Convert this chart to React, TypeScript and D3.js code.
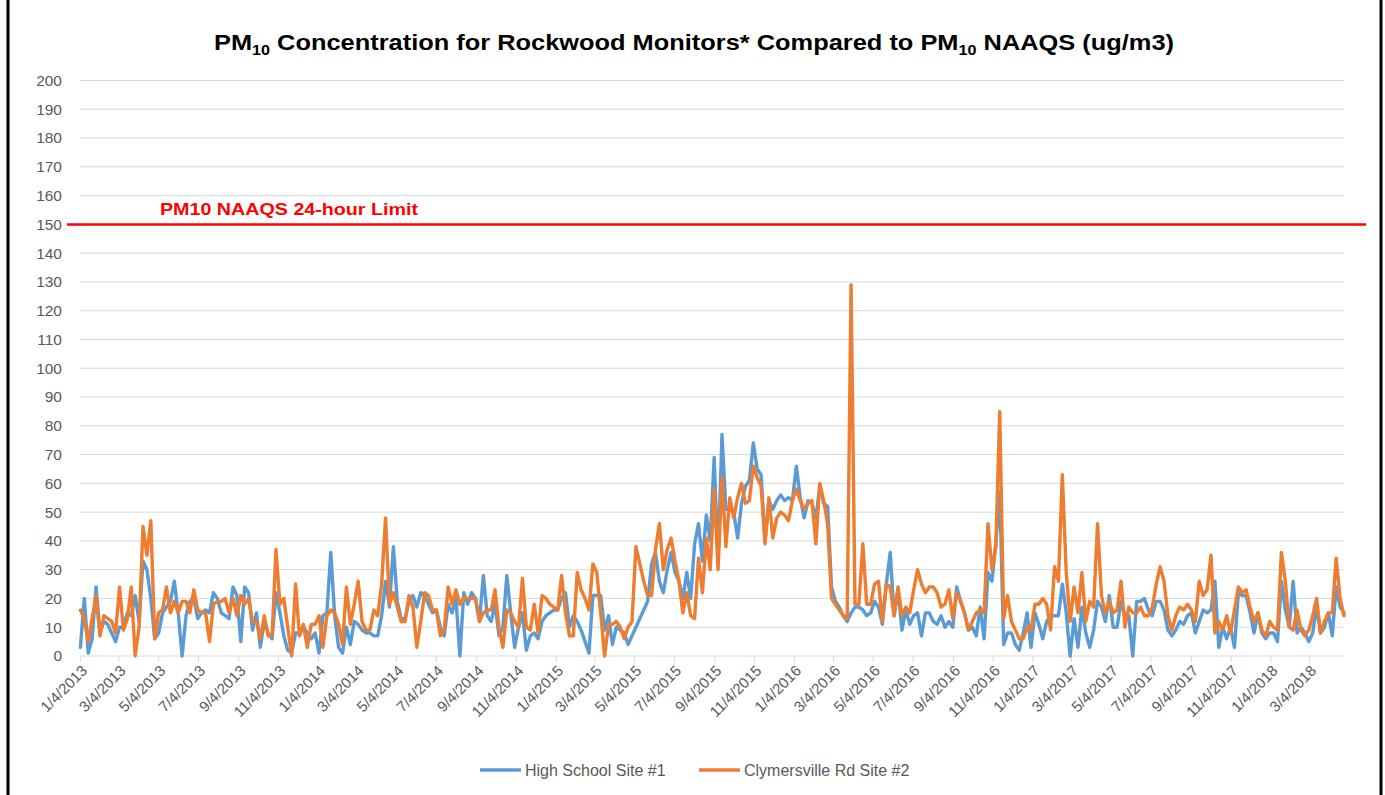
import React, { useEffect, useRef } from "react";
import * as d3 from "d3";

// samples every 6 days starting 1/4/2013
const startDate = new Date(2013, 0, 4);
const stepDays = 6;

const highSchool = [
  3, 20, 1, 6, 24, 8, 12, 11, 8, 5, 10, 10, 15, 14, 21, 12, 33, 30, 20, 6,
  8, 15, 17, 19, 26, 15, 0, 14, 19, 20, 13, 15, 16, 15, 22, 20, 15, 14, 13, 24,
  21, 5, 24, 22, 9, 15, 3, 12, 8, 6, 22, 15, 7, 2,
  1, 8, 8, 10, 8, 6, 8, 1, 14, 15, 36, 14, 3, 1, 10, 4, 12, 11, 9, 8,
  8, 7, 7, 14, 26, 17, 38, 19, 13, 13, 19, 21, 17, 22, 21, 18, 15, 16, 10, 7,
  18, 15, 20, 0, 22, 18, 22, 20, 12, 28, 14, 12, 18, 7, 10, 28,
  15, 3, 10, 15, 2, 7, 8, 6, 12, 14, 15, 16, 16, 20, 22, 10, 14, 12, 9, 5,
  1, 21, 21, 21, 9, 14, 4, 10, 9, 8, 4, 7, 10, 13, 16, 19, 32, 36, 26, 22,
  30, 36, 29, 26, 20, 29, 20, 39, 46, 33, 49, 40, 69, 33, 77, 51,
  51, 50, 41, 53, 59, 61, 74, 65, 63, 40, 54, 51, 54, 56, 54, 55, 54, 66, 55, 48,
  54, 53, 48, 59, 53, 52, 24, 19, 17, 14, 12, 15, 17, 17, 16, 14, 15, 19, 17, 11,
  25, 36, 14, 23, 9, 16, 11, 14, 15, 7, 15, 15, 12, 11, 14, 10,
  12, 10, 24, 19, 15, 9, 10, 7, 17, 6, 29, 26, 39, 57, 4, 8, 8, 4, 2, 8,
  15, 3, 15, 11, 6, 12, 14, 14, 14, 25, 15, 0, 13, 3, 17, 8, 3, 9, 19, 17,
  12, 21, 10, 10, 19, 14, 14, 0, 19, 19, 20, 16, 14, 19, 19, 16,
  9, 7, 9, 12, 11, 14, 15, 8, 12, 16, 15, 16, 26, 3, 10, 6, 10, 3, 22, 21,
  21, 15, 8, 15, 8, 6, 8, 8, 5, 26, 16, 10, 26, 8, 10, 8, 5, 8, 17, 8,
  10, 15, 7, 24, 17, 15,
];

const clymersville = [
  16, 13, 5, 13, 21, 7, 14, 13, 12, 8, 24, 9, 13, 24, 0, 10, 45, 35, 47, 6,
  15, 16, 24, 15, 19, 15, 19, 19, 15, 23, 16, 15, 15, 5, 18, 19, 19, 20, 15, 20,
  14, 21, 18, 20, 12, 12, 6, 14, 7, 7, 37, 18, 20, 10,
  0, 25, 7, 11, 3, 11, 11, 14, 3, 14, 16, 15, 11, 4, 24, 11, 18, 26, 12, 9,
  9, 16, 14, 25, 48, 18, 22, 17, 12, 12, 21, 17, 3, 12, 22, 21, 16, 16, 7, 9,
  24, 18, 23, 18, 20, 20, 20, 20, 12, 15, 16, 16, 23, 10, 3, 16,
  15, 12, 10, 27, 10, 9, 18, 8, 21, 20, 18, 17, 16, 28, 15, 7, 7, 29, 23, 20,
  16, 32, 29, 15, 0, 11, 11, 12, 10, 6, 10, 12, 38, 32, 26, 21, 21, 37, 46, 30,
  37, 41, 33, 26, 15, 22, 14, 13, 34, 22, 41, 30, 58, 30, 62, 38,
  55, 48, 55, 60, 53, 54, 66, 62, 59, 39, 55, 41, 48, 50, 49, 47, 54, 58, 54, 51,
  53, 54, 39, 60, 54, 46, 20, 18, 16, 14, 13, 129, 18, 18, 39, 18, 18, 25, 26, 12,
  25, 24, 14, 24, 14, 17, 15, 23, 30, 25, 22, 24, 24, 22, 17, 18,
  23, 13, 22, 19, 15, 9, 12, 15, 16, 15, 46, 30, 38, 85, 13, 21, 12, 9, 6, 6,
  10, 9, 18, 18, 20, 18, 9, 31, 26, 63, 29, 12, 24, 15, 29, 12, 19, 17, 46, 21,
  15, 19, 15, 16, 26, 10, 17, 15, 15, 17, 14, 14, 17, 25, 31, 26,
  14, 9, 14, 17, 16, 18, 16, 12, 26, 21, 23, 35, 8, 12, 9, 14, 8, 16, 24, 22,
  23, 17, 12, 15, 9, 7, 12, 10, 9, 36, 26, 10, 9, 16, 9, 7, 9, 14, 20, 8,
  12, 15, 15, 34, 20, 14,
];

const seriesNames = ["High School Site #1", "Clymersville Rd Site #2"];
const seriesColors = ["#5B9BD5", "#ED7D31"];
const limitValue = 150;
const limitLabel = "PM10 NAAQS 24-hour Limit";
const yTicks = d3.range(0, 201, 10);
// x labels every two months, on the 4th
const xTickDates = d3.range(0, 32).map((k) => new Date(2013, 2 * k, 4));

const W = 1385;
const H = 795;

const App = () => {
  const ref = useRef<SVGSVGElement>(null);

  useEffect(() => {
    const svg = d3.select(ref.current);
    svg.selectAll("*").remove();
    const font = "'Liberation Sans', Arial, sans-serif";
    const grey = "#595959";

    const dates = highSchool.map((_, i) => d3.timeDay.offset(startDate, i * stepDays));
    const x = d3.scaleTime().domain([dates[0], dates[dates.length - 1]]).range([80.4, 1344]);
    const y = d3.scaleLinear().domain([0, 200]).range([656, 80.5]);

    svg.append("rect").attr("width", W).attr("height", H).attr("fill", "#fff");

    // frame
    svg.append("line").attr("x1", 8).attr("x2", 8).attr("y1", 0).attr("y2", H)
      .attr("stroke", "#000").attr("stroke-width", 3);
    svg.append("line").attr("x1", 1381).attr("x2", 1381).attr("y1", 0).attr("y2", H)
      .attr("stroke", "#000").attr("stroke-width", 3);

    // title
    const title = svg.append("text")
      .attr("x", 694).attr("y", 50)
      .attr("text-anchor", "middle")
      .style("font-family", font).style("font-weight", "bold").style("font-size", "22px")
      .attr("fill", "#000")
      .attr("textLength", 960).attr("lengthAdjust", "spacingAndGlyphs");
    title.append("tspan").text("PM");
    title.append("tspan").attr("dy", 5).style("font-size", "14px").text("10");
    title.append("tspan").attr("dy", -5).text(" Concentration for Rockwood Monitors* Compared to PM");
    title.append("tspan").attr("dy", 5).style("font-size", "14px").text("10");
    title.append("tspan").attr("dy", -5).text(" NAAQS (ug/m3)");

    // grid + y labels
    svg.append("g").selectAll("line").data(yTicks.filter((d) => d > 0)).enter().append("line")
      .attr("x1", 80).attr("x2", 1344)
      .attr("y1", (d) => y(d)).attr("y2", (d) => y(d))
      .attr("stroke", "#d9d9d9").attr("stroke-width", 1);
    svg.append("g").selectAll("text").data(yTicks).enter().append("text")
      .attr("x", 62).attr("y", (d) => y(d)).attr("dy", "0.35em")
      .attr("text-anchor", "end")
      .style("font-family", font).style("font-size", "15.5px").attr("fill", grey)
      .text((d) => d);

    // x axis
    svg.append("line").attr("x1", 80).attr("x2", 1344).attr("y1", y(0)).attr("y2", y(0))
      .attr("stroke", "#d9d9d9").attr("stroke-width", 1);
    svg.append("g").selectAll("line").data(xTickDates).enter().append("line")
      .attr("x1", (d) => x(d)).attr("x2", (d) => x(d))
      .attr("y1", y(0)).attr("y2", y(0) + 6)
      .attr("stroke", "#d9d9d9").attr("stroke-width", 1);
    svg.append("g").selectAll("text").data(xTickDates).enter().append("text")
      .attr("transform", (d) => `translate(${x(d) + 4},${y(0) + 12}) rotate(-45)`)
      .attr("text-anchor", "end").attr("dy", "0.35em")
      .style("font-family", font).style("font-size", "15px").attr("fill", grey)
      .text((d) => `${d.getMonth() + 1}/${d.getDate()}/${d.getFullYear()}`);

    // limit line
    svg.append("line").attr("x1", 67).attr("x2", 1366)
      .attr("y1", y(limitValue)).attr("y2", y(limitValue))
      .attr("stroke", "#ff0000").attr("stroke-width", 2.5);
    svg.append("text").attr("x", 160).attr("y", 215)
      .style("font-family", font).style("font-weight", "bold").style("font-size", "17px")
      .attr("fill", "#ff0000")
      .attr("textLength", 258).attr("lengthAdjust", "spacingAndGlyphs")
      .text(limitLabel);

    // series
    const line = d3.line<number>()
      .x((d, i) => x(dates[i]))
      .y((d) => y(d));
    [highSchool, clymersville].forEach((s, k) => {
      svg.append("path").datum(s)
        .attr("d", line)
        .attr("fill", "none")
        .attr("stroke", seriesColors[k])
        .attr("stroke-width", 3.4)
        .attr("stroke-linejoin", "round")
        .attr("stroke-linecap", "round");
    });

    // legend
    const legendX = [480, 699];
    seriesNames.forEach((name, k) => {
      svg.append("line").attr("x1", legendX[k]).attr("x2", legendX[k] + 41)
        .attr("y1", 770).attr("y2", 770)
        .attr("stroke", seriesColors[k]).attr("stroke-width", 3.5);
      svg.append("text").attr("x", legendX[k] + 45).attr("y", 770).attr("dy", "0.35em")
        .style("font-family", font).style("font-size", "16px").attr("fill", grey)
        .text(name);
    });
  }, []);

  return (
    <svg
      ref={ref}
      width={W}
      height={H}
      style={{ position: "absolute", left: 0, top: 0, display: "block" }}
    />
  );
};

export default App;
